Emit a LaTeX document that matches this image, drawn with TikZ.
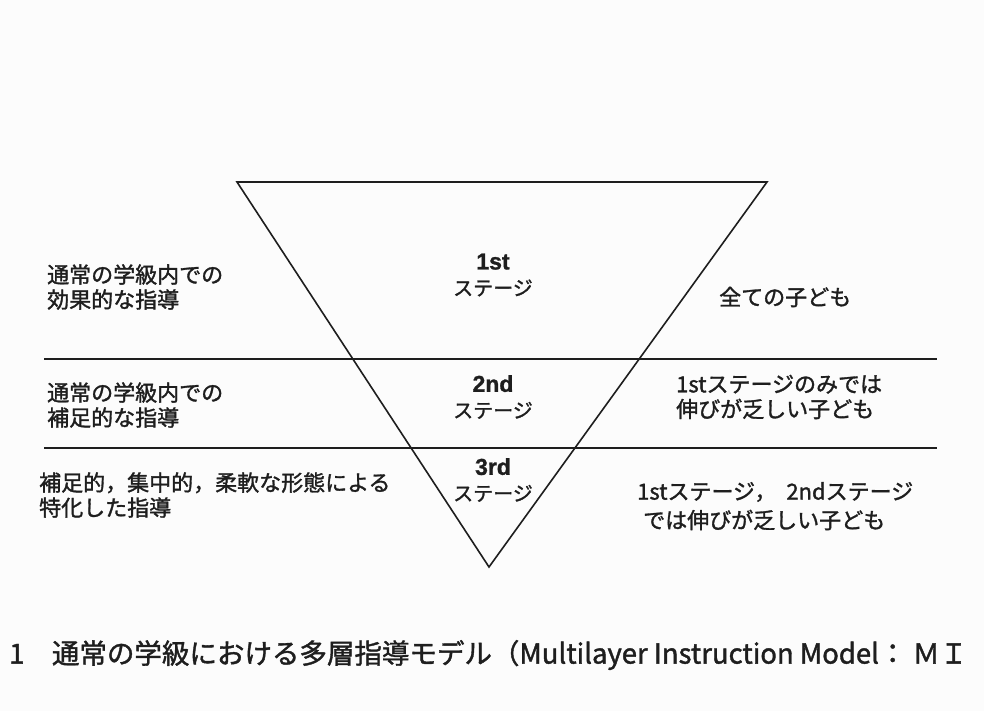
\documentclass[tikz,border=0pt]{standalone}
\usepackage{fontspec}
\setmainfont{Noto Sans CJK JP}[FakeBold=1.4]
\newfontfamily\latinbold{Liberation Sans}[FakeBold=1.2]
\definecolor{bgcol}{RGB}{252,252,252}
\definecolor{ink}{RGB}{30,30,30}
\begin{document}
\begin{tikzpicture}[x=1pt,y=-1pt,
  txt/.style={inner sep=0pt,text=ink,font=\fontsize{22}{25}\selectfont,align=left},
  stagetxt/.style={inner sep=0pt,text=ink,font=\fontsize{20}{26}\selectfont,align=center},
  tri/.style={draw=ink,line width=1.6pt,line join=miter},
  rule/.style={draw=ink,line width=1.1pt}]
\fill[bgcol] (0,0) rectangle (984,711);
\useasboundingbox (0,0) rectangle (984,711);
\clip (0,0) rectangle (984,711);
% triangle
\coordinate (tl) at (237,182);
\coordinate (tr) at (767,182);
\coordinate (bt) at (489,567);
\draw[tri] (tl) -- (tr) -- (bt) -- cycle;
% horizontal rules
\coordinate (r1a) at (44,359);
\coordinate (r1b) at (937,359);
\coordinate (r2a) at (44,448);
\coordinate (r2b) at (937,448);
\draw[rule] (r1a) -- (r1b);
\draw[rule] (r2a) -- (r2b);
% left column
\node[txt,anchor=west] (l1) at (47,287) {通常の学級内での\\効果的な指導};
\node[txt,anchor=west] (l2) at (47,405) {通常の学級内での\\補足的な指導};
\node[txt,anchor=west] (l3) at (39,495) {補足的，集中的，柔軟な形態による\\特化した指導};
% center column
\node[stagetxt] (s1) at (493,275) {{\latinbold\fontsize{23}{26}\selectfont\bfseries 1st}\\ステージ};
\node[stagetxt] (s2) at (493,397) {{\latinbold\fontsize{23}{26}\selectfont\bfseries 2nd}\\ステージ};
\node[stagetxt] (s3) at (493,480) {{\latinbold\fontsize{23}{26}\selectfont\bfseries 3rd}\\ステージ};
% right column
\node[txt,anchor=west] (r1) at (719,297) {全ての子ども};
\node[txt,anchor=west] (r2) at (676,397) {1stステージのみでは\\伸びが乏しい子ども};
\node[txt,anchor=west] (r3a) at (637,492) {1stステージ，\hspace{10pt}2ndステージ};
\node[txt,anchor=west] (r3b) at (643,520) {では伸びが乏しい子ども};
% caption
\node[inner sep=0pt,anchor=west,text=ink,font=\fontsize{27.5}{30}\selectfont] (cap) at (9,655) {1　通常の学級における多層指導モデル（Multilayer Instruction Model：\hspace{6pt}ＭＩ};
\end{tikzpicture}
\end{document}
